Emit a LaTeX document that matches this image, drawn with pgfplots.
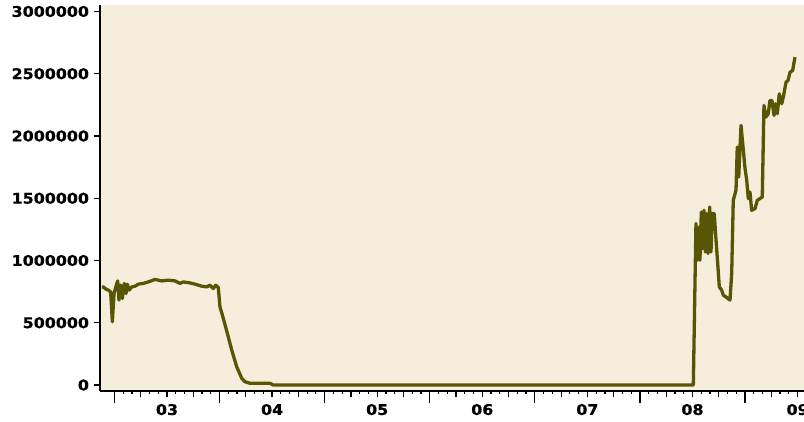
\documentclass[border=0pt]{standalone}
\usepackage{fontspec}
\usepackage{pgfplots}
\pgfplotsset{compat=1.18}
\newfontfamily\lblfont{DejaVu Sans Bold}[FakeStretch=1.08,FakeBold=0.6]
\definecolor{bgc}{RGB}{245,238,220}
\definecolor{linec}{RGB}{88,85,5}
\begin{document}
\begin{tikzpicture}[x=1pt,y=1pt]
\begin{axis}[
  at={(100pt,31pt)}, anchor=south west,
  scale only axis, width=704pt, height=386pt,
  xmin=2002.3625, xmax=2009.061,
  ymin=-48000, ymax=3052000,
  axis lines*=left,
  axis line style={line width=2pt, black},
  axis background/.style={fill=bgc},
  tick align=outside,
  every tick/.style={black, line width=1.2pt},
  major tick length=6.5pt,
  minor tick length=3pt,
  xtick={2002.5,2002.75,2003,2003.25,2003.5,2003.75,2004,2004.25,2004.5,2004.75,2005,2005.25,2005.5,2005.75,2006,2006.25,2006.5,2006.75,2007,2007.25,2007.5,2007.75,2008,2008.25,2008.5,2008.75,2009},
  xticklabels={,,03,,,,04,,,,05,,,,06,,,,07,,,,08,,,,09},
  minor x tick num=2,
  extra x ticks={2002.5,2003.5,2004.5,2005.5,2006.5,2007.5,2008.5},
  extra x tick labels={},
  extra x tick style={major tick length=12pt},
  ytick={0,500000,1000000,1500000,2000000,2500000,3000000},
  yticklabels={0,500000,1000000,1500000,2000000,2500000,3000000},
  tick label style={font=\lblfont\fontsize{14.7}{16}\selectfont, black},
  xticklabel style={yshift=-3pt},
  yticklabel style={xshift=-1pt},
  clip=true,
]
\addplot[color=linec, line width=3.3pt, line join=round] coordinates {
(2002.381,786000) (2002.394,788000) (2002.420,770000) (2002.442,762000)
(2002.464,748000) (2002.480,508000) (2002.496,735000) (2002.515,794000)
(2002.531,836000) (2002.543,682000) (2002.560,802000) (2002.575,695000)
(2002.594,816000) (2002.610,735000) (2002.622,810000) (2002.641,762000)
(2002.664,788000) (2002.696,794000) (2002.727,810000) (2002.774,816000)
(2002.822,828000) (2002.886,848000) (2002.950,836000) (2003.012,842000)
(2003.076,836000) (2003.124,816000) (2003.155,828000) (2003.219,820000)
(2003.266,810000) (2003.330,794000) (2003.378,788000) (2003.409,802000)
(2003.441,775000) (2003.463,802000) (2003.488,783000) (2003.504,628000)
(2003.536,535000) (2003.583,387000) (2003.616,281000) (2003.663,147000)
(2003.711,54000) (2003.742,26000) (2003.790,14000) (2003.980,14000)
(2004.011,0) (2008.008,0)
(2008.033,1297000) (2008.046,1002000) (2008.062,1269000) (2008.071,1002000)
(2008.084,1390000) (2008.097,1096000) (2008.109,1403000) (2008.122,1069000)
(2008.135,1377000) (2008.148,1056000) (2008.164,1430000) (2008.176,1069000)
(2008.188,1377000) (2008.207,1377000) (2008.224,1163000) (2008.240,976000)
(2008.255,788000) (2008.278,762000) (2008.293,722000) (2008.325,703000)
(2008.357,682000) (2008.373,896000) (2008.388,1484000) (2008.414,1564000)
(2008.426,1911000) (2008.440,1670000) (2008.452,1911000) (2008.462,2085000)
(2008.478,1938000) (2008.500,1738000) (2008.516,1644000) (2008.531,1497000)
(2008.547,1550000) (2008.563,1403000) (2008.595,1417000) (2008.617,1484000)
(2008.642,1497000) (2008.664,1510000) (2008.680,2245000) (2008.699,2152000)
(2008.721,2179000) (2008.737,2285000) (2008.756,2285000) (2008.776,2165000)
(2008.788,2259000) (2008.807,2179000) (2008.826,2339000) (2008.849,2259000)
(2008.864,2312000) (2008.890,2432000) (2008.909,2446000) (2008.928,2512000)
(2008.953,2526000) (2008.975,2633000)
};
\end{axis}
\pgfresetboundingbox
\path (0,0) rectangle (804,422);
\end{tikzpicture}
\end{document}
